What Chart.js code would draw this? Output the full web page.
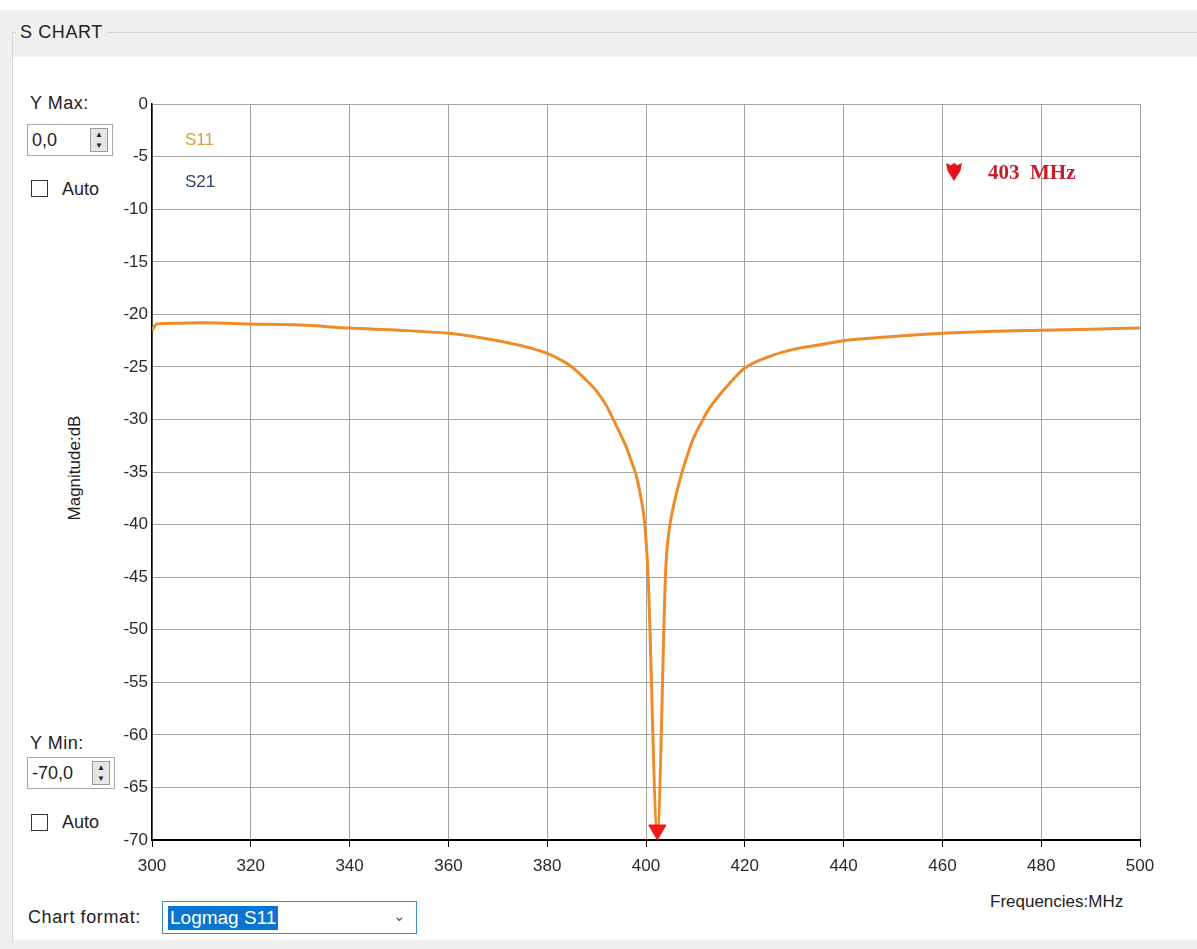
<!DOCTYPE html>
<html>
<head>
<meta charset="utf-8">
<script src="https://cdn.jsdelivr.net/npm/chart.js@4"></script>
<style>
  body { margin: 0; background: #fff; font-family: "Liberation Sans", Arial, sans-serif; color: #222; }
  #page { position: relative; width: 1197px; height: 949px; overflow: hidden; background: #f0f0f0; }
  .abs { position: absolute; white-space: nowrap; }
  #topWhite { left: 0; top: 0; width: 1197px; height: 10px; background: #fff; }
  #groupLine { left: 12px; top: 32px; width: 1185px; height: 1px; background: #d6d6d6; }
  #groupLeft { left: 12px; top: 32px; width: 1px; height: 910px; background: #d6d6d6; }
  #panel { left: 13px; top: 57px; width: 1184px; height: 883px; background: #fff; }
  #title { left: 16px; top: 22px; font-size: 18px; background: #f0f0f0; padding: 0 4px; letter-spacing: 0.6px; }
  .lbl { font-size: 18px; transform: translateY(-50%); }
  .numbox { border: 1px solid #a9a9a9; background: #fff; height: 32px; font-size: 18px; line-height: 31px; padding-left: 4px; box-sizing: border-box; }
  .spin { position: absolute; right: 4px; top: 3px; width: 18px; height: 24px; border: 1px solid #999; background: #e6e6e6; box-sizing: border-box; font-size: 8px; line-height: 11px; text-align: center; color: #222; }
  .chk { width: 17px; height: 17px; border: 1px solid #333; background: #fff; box-sizing: border-box; }
  #chartWrap { left: 100px; top: 90px; width: 1070px; height: 800px; }
  #select { left: 162px; top: 901px; width: 255px; height: 33px; border: 1px solid #3b8fb8; box-sizing: border-box; background: #fff; }
  #selText { left: 5px; top: 4px; height: 24px; line-height: 24px; padding: 0 2px; background: #0a74d2; color: #fff; font-size: 19px; }
  #mark { left: 946px; top: 163px; width: 16px; height: 18px; background: #e8141c;
          clip-path: polygon(0 0, 30% 12%, 50% 0, 70% 12%, 100% 0, 90% 45%, 50% 100%, 10% 45%); }
</style>
</head>
<body>
<div id="page">
  <div class="abs" id="topWhite"></div>
  <div class="abs" id="panel"></div>
  <div class="abs" id="groupLine"></div>
  <div class="abs" id="groupLeft"></div>
  <div class="abs" id="title">S CHART</div>

  <div class="abs lbl" style="left:30px;top:103px;letter-spacing:0.5px;">Y Max:</div>
  <div class="abs numbox" style="left:27px;top:124px;width:86px;">0,0<div class="spin">&#9650;<br>&#9660;</div></div>
  <div class="abs chk" style="left:31px;top:180px;"></div>
  <div class="abs lbl" style="left:62px;top:189px;">Auto</div>

  <div class="abs lbl" style="left:30px;top:743px;letter-spacing:0.5px;">Y Min:</div>
  <div class="abs numbox" style="left:27px;top:757px;width:88px;">-70,0<div class="spin">&#9650;<br>&#9660;</div></div>
  <div class="abs chk" style="left:31px;top:814px;"></div>
  <div class="abs lbl" style="left:62px;top:822px;">Auto</div>

  <div class="abs" id="chartWrap"><canvas id="sChart" width="1070" height="800"></canvas></div>

  <div class="abs lbl" style="left:185px;top:140px;font-size:17px;color:#d4a046;">S11</div>
  <div class="abs lbl" style="left:185px;top:182px;font-size:17px;color:#2c4470;">S21</div>
  <div class="abs" id="mark"></div>
  <div class="abs lbl" style="left:988px;top:172px;font-size:21px;font-weight:bold;font-family:'Liberation Serif','DejaVu Serif',serif;color:#c4202c;">403&nbsp; MHz</div>

  <div class="abs" style="left:75px;top:468px;transform:translate(-50%,-50%) rotate(-90deg);font-size:17px;">Magnitude:dB</div>
  <div class="abs lbl" style="left:990px;top:902px;font-size:17px;">Frequencies:MHz</div>

  <div class="abs lbl" style="left:28px;top:917px;letter-spacing:0.6px;">Chart format:</div>
  <div class="abs" id="select">
    <div class="abs" id="selText">Logmag S11</div>
    <div class="abs" style="right:10px;top:5px;font-size:15px;color:#555;">&#8964;</div>
  </div>
</div>

<script>
// S11 trace (MHz, dB)
const freqs = [300, 301, 305, 310, 320, 330, 340, 350, 360, 365, 370, 375, 380, 383, 385, 388, 390, 392, 394, 396, 397, 398, 399, 399.6, 400, 400.4, 402.3,
  404.0, 404.6, 405.5, 406.5, 407.3, 408.3, 409.4, 411.4, 413, 415, 418, 420, 425, 430, 435, 440, 450, 460, 470, 480, 490, 500];
const s11 = [-21.5, -20.9, -20.85, -20.8, -20.9, -21.0, -21.3, -21.5, -21.8, -22.1, -22.5, -23.0, -23.7, -24.4, -25.0, -26.3, -27.3, -28.7, -30.6, -32.6, -33.9, -35.3, -37.5, -39.3, -41.5, -44.5, -69.2,
  -44.2, -40.8, -38.4, -36.4, -35.0, -33.5, -32.0, -30.1, -28.8, -27.6, -26.0, -25.1, -24.0, -23.3, -22.9, -22.5, -22.1, -21.8, -21.6, -21.5, -21.4, -21.3];

// marker at the dip
const markerFreq = [402.3];
const markerVal = [-69.05];

const xTicks = [300, 320, 340, 360, 380, 400, 420, 440, 460, 480, 500];
const yTicks = [0, -5, -10, -15, -20, -25, -30, -35, -40, -45, -50, -55, -60, -65, -70];

const tickFont = { family: 'Liberation Sans, Arial, sans-serif', size: 17 };

new Chart(document.getElementById('sChart'), {
  type: 'line',
  data: {
    datasets: [
      {
        label: 'S11',
        data: freqs.map((f, i) => ({ x: f, y: s11[i] })),
        borderColor: '#ee8c2a',
        borderWidth: 3,
        pointRadius: 0,
        cubicInterpolationMode: 'monotone',
        order: 2
      },
      {
        label: 'marker',
        data: markerFreq.map((f, i) => ({ x: f, y: markerVal[i] })),
        showLine: false,
        pointStyle: 'triangle',
        rotation: 180,
        pointRadius: 10,
        pointBackgroundColor: '#f01818',
        pointBorderColor: '#f01818',
        clip: false,
        order: 1
      }
    ]
  },
  options: {
    responsive: false,
    animation: false,
    layout: { padding: { top: 13, right: 30, left: 0, bottom: 0 } },
    plugins: { legend: { display: false }, tooltip: { enabled: false } },
    scales: {
      x: {
        type: 'linear',
        min: 300,
        max: 500,
        afterBuildTicks: s => { s.ticks = xTicks.map(v => ({ value: v })); },
        afterFit: s => { s.height = 50; },
        grid: { color: '#a4a4a4', lineWidth: 1, tickColor: '#000', tickLength: 7 },
        border: { color: '#000', width: 2 },
        ticks: { font: tickFont, color: '#2a2a2a', padding: 9, maxRotation: 0 }
      },
      y: {
        min: -70,
        max: 0,
        afterBuildTicks: s => { s.ticks = yTicks.map(v => ({ value: v })); },
        afterFit: s => { s.width = 52; },
        grid: { color: '#a4a4a4', lineWidth: 1, drawTicks: false },
        border: { color: '#000', width: 1.5 },
        ticks: { font: tickFont, color: '#2a2a2a', padding: 4 }
      }
    }
  }
});
</script>
</body>
</html>
